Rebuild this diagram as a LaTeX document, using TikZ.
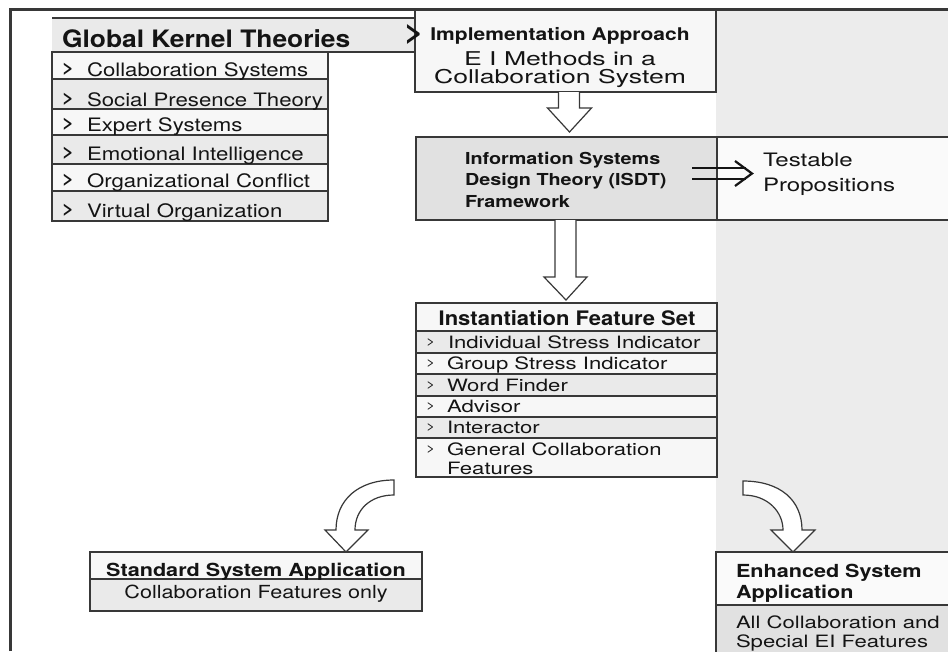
\documentclass[tikz,border=0pt]{standalone}
\usepackage{fontspec}
\setmainfont{TeX Gyre Heros}
\newfontfamily\fA[FakeStretch=1.1]{TeX Gyre Heros}
\newfontfamily\fB[FakeStretch=1.2]{TeX Gyre Heros}
\newfontfamily\fC[FakeStretch=1.3]{TeX Gyre Heros}
\newfontfamily\fD[FakeStretch=1.4]{TeX Gyre Heros}
\newcommand\fsz[1]{\fontsize{#1}{#1}\selectfont}
\usetikzlibrary{calc}
\definecolor{ink}{HTML}{141414}
\definecolor{edge}{HTML}{383838}
\definecolor{panel}{HTML}{ECECEC}
\definecolor{lite}{HTML}{F7F7F7}
\definecolor{mid}{HTML}{EAEAEA}
\definecolor{dark}{HTML}{E1E1E1}
\definecolor{paper}{HTML}{FAFAFA}
\tikzset{
  box/.style={draw=edge, line width=1.5pt, inner sep=0pt, outer sep=0pt, anchor=north west, rectangle},
  lbl/.style={inner sep=0pt, outer sep=0pt, text=ink},
  hollow/.style={draw=edge, line width=1.2pt, fill=white, line join=miter},
  dbl/.style={draw=ink, line width=2.2pt},
  gitem/.style={lbl, anchor=base west, font=\fB\fsz{18.5}},
  gmark/.style={lbl, anchor=base west, font=\fB\bfseries\fsz{17}},
  iitem/.style={lbl, anchor=base west, font=\fC\fsz{17}},
  imark/.style={lbl, anchor=base west, font=\fC\fsz{12}},
}
\begin{document}
\begin{tikzpicture}[x=1pt, y=-1pt]
\useasboundingbox (0,0) rectangle (948,651);
\clip (0,0) rectangle (948,651);
\fill[white] (0,0) rectangle (948,651);
\fill[panel] (716,10) rectangle (948,651);
\draw[edge, line width=2.5pt] (10.5,651) -- (10.5,9.5) -- (948,9.5);

% Global kernel theories
\node[box, draw=none, fill=mid, minimum width=363pt, minimum height=34pt] (gkh) at (52,18) {};
\draw[edge, line width=2.5pt] (gkh.north west) -- (gkh.north east);
\draw[edge, line width=1.5pt] (gkh.south west) -- (gkh.south east);
\node[lbl, anchor=base west] (gkt) at (62,47) {\fA\bfseries\fsz{24}Global Kernel Theories};

\node[box, fill=lite, minimum width=276pt, minimum height=27pt] (g1) at (52,52) {};
\node[box, fill=mid,  minimum width=276pt, minimum height=30pt] (g2) at (52,79) {};
\node[box, fill=lite, minimum width=276pt, minimum height=26pt] (g3) at (52,109) {};
\node[box, fill=mid,  minimum width=276pt, minimum height=29pt] (g4) at (52,135) {};
\node[box, fill=lite, minimum width=276pt, minimum height=27pt] (g5) at (52,164) {};
\node[box, fill=mid,  minimum width=276pt, minimum height=30pt] (g6) at (52,191) {};
\node[gmark] (gm1) at (62,73.5) {>};  \node[gitem] (gt1) at (87,76) {Collaboration Systems};
\node[gmark] (gm2) at (62,103.5) {>}; \node[gitem] (gt2) at (87,106) {Social Presence Theory};
\node[gmark] (gm3) at (62,128.5) {>}; \node[gitem] (gt3) at (87,131) {Expert Systems};
\node[gmark] (gm4) at (62,157.5) {>}; \node[gitem] (gt4) at (87,160) {Emotional Intelligence};
\node[gmark] (gm5) at (62,184.5) {>}; \node[gitem] (gt5) at (87,187) {Organizational Conflict};
\node[gmark] (gm6) at (62,214.5) {>}; \node[gitem] (gt6) at (87,217) {Virtual Organization};

% Implementation approach
\node[box, fill=lite, minimum width=301pt, minimum height=82pt] (impl) at (415,10) {};
\node[lbl, anchor=base] (im1) at (560,40) {\fB\bfseries\fsz{17.5}Implementation Approach};
\node[lbl, anchor=base] (im2) at (560,65) {\fD\fsz{19}E I Methods in a};
\node[lbl, anchor=base] (im3) at (560,83) {\fD\fsz{19}Collaboration System};
\node[lbl] (gtr) at (414,34) {\fB\bfseries\fsz{28}>};

% ISDT and testable propositions
\node[box, fill=paper, minimum width=240pt, minimum height=83pt] (test) at (717,137) {};
\node[box, fill=dark, minimum width=301pt, minimum height=83pt] (isdt) at (416,137) {};
\node[lbl, anchor=base west] (is1) at (465,164) {\fB\bfseries\fsz{16.5}Information Systems};
\node[lbl, anchor=base west] (is2) at (465,185) {\fB\bfseries\fsz{16.5}Design Theory (ISDT)};
\node[lbl, anchor=base west] (is3) at (465,207) {\fB\bfseries\fsz{16.5}Framework};
\node[lbl, anchor=base west] (tp1) at (763,166) {\fC\fsz{18.5}Testable};
\node[lbl, anchor=base west] (tp2) at (763,191) {\fC\fsz{18.5}Propositions};

\draw[dbl] ($(isdt.east)+(-25,-10.5)$) -- ($(test.west)+(29,-10.5)$);
\draw[dbl] ($(isdt.east)+(-25,0.5)$) -- ($(test.west)+(29,0.5)$);
\draw[dbl, line join=miter] ($(test.west)+(18,-17.5)$) -- ($(test.west)+(35,-5)$) -- ($(test.west)+(18,7.5)$);

% hollow arrows
\draw[hollow] ($(impl.south)+(-7,0)$) -- ($(impl.south)+(-7,16)$) -- ($(impl.south)+(-18,16)$)
  -- ($(isdt.north)+(3,-5)$) -- ($(impl.south)+(26,16)$) -- ($(impl.south)+(14,16)$) -- ($(impl.south)+(14,0)$);

% Instantiation feature set
\node[box, fill=lite, minimum width=301pt, minimum height=28pt] (insth) at (416,303) {};
\node[box, fill=mid,  minimum width=301pt, minimum height=22pt] (i1) at (416,331) {};
\node[box, fill=lite, minimum width=301pt, minimum height=21pt] (i2) at (416,353) {};
\node[box, fill=mid,  minimum width=301pt, minimum height=22pt] (i3) at (416,374) {};
\node[box, fill=lite, minimum width=301pt, minimum height=21pt] (i4) at (416,396) {};
\node[box, fill=mid,  minimum width=301pt, minimum height=21pt] (i5) at (416,417) {};
\node[box, fill=lite, minimum width=301pt, minimum height=39pt] (i6) at (416,438) {};
\node[lbl, anchor=base] (ist) at (567,325) {\fA\bfseries\fsz{20}Instantiation Feature Set};
\node[imark] (im_1) at (426,345.5) {>}; \node[iitem] (it1) at (448,348) {Individual Stress Indicator};
\node[imark] (im_2) at (426,366.5) {>}; \node[iitem] (it2) at (447,369) {Group Stress Indicator};
\node[imark] (im_3) at (426,388.5) {>}; \node[iitem] (it3) at (447,391) {Word Finder};
\node[imark] (im_4) at (426,409.5) {>}; \node[iitem] (it4) at (447,412) {Advisor};
\node[imark] (im_5) at (426,430.5) {>}; \node[iitem] (it5) at (447,433) {Interactor};
\node[imark] (im_6) at (426,452.5) {>}; \node[iitem] (it6) at (447,455) {General Collaboration};
\node[iitem] (it7) at (447,474) {Features};

\draw[hollow] ($(isdt.south)+(-11.5,0)$) -- ($(isdt.south)+(-11.5,57)$) -- ($(isdt.south)+(-22.5,57)$)
  -- ($(insth.north)+(-0.5,-3)$) -- ($(isdt.south)+(20.5,57)$) -- ($(isdt.south)+(9.5,57)$) -- ($(isdt.south)+(9.5,0)$);

% Standard system application
\node[box, fill=lite, minimum width=332pt, minimum height=27pt] (stdh) at (90,552) {};
\node[box, fill=mid,  minimum width=332pt, minimum height=32pt] (stds) at (90,579) {};
\node[lbl, anchor=base] (st1) at (256,576) {\fB\bfseries\fsz{18}Standard System Application};
\node[lbl, anchor=base] (st2) at (256,598) {\fB\fsz{18}Collaboration Features only};

% Enhanced system application
\node[box, fill=paper, minimum width=240pt, minimum height=53pt] (enh) at (716,552) {};
\node[box, fill=dark,  minimum width=240pt, minimum height=60pt] (enhs) at (716,605) {};
\node[lbl, anchor=base west] (en1) at (736,577) {\fB\bfseries\fsz{18}Enhanced System};
\node[lbl, anchor=base west] (en2) at (736,598) {\fB\bfseries\fsz{18}Application};
\node[lbl, anchor=base west] (en3) at (736,628) {\fC\fsz{17}All Collaboration and};
\node[lbl, anchor=base west] (en4) at (736,647) {\fC\fsz{17}Special EI Features};

% curved hollow arrows
\draw[hollow] ($(i6.south west)+(-22,3)$) .. controls (358,480) and (336,500) .. (336,530)
  -- (325,530) -- ($(stdh.north)+(90,0)$) -- (368,530) -- (355,530)
  .. controls (355,510) and (370,495) .. ($(i6.south west)+(-22,18)$) -- cycle;
\draw[hollow] ($(i6.south east)+(26,4)$) .. controls (780,481) and (802,500) .. (802,530)
  -- (815,530) -- ($(enh.north west)+(77,0)$) -- (771,530) -- (783,530)
  .. controls (783,512) and (768,495) .. ($(i6.south east)+(26,18)$) -- cycle;
\end{tikzpicture}
\end{document}
